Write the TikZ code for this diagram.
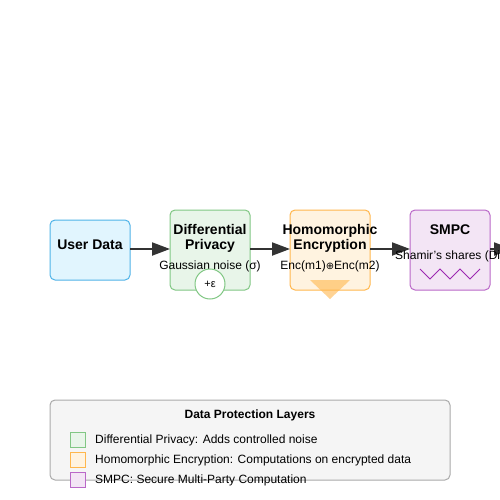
\documentclass[tikz,border=0pt]{standalone}
\usepackage{fontspec}
\setmainfont{Liberation Sans}
\newfontfamily\symfont{DejaVu Sans}
\usetikzlibrary{arrows.meta}
\definecolor{udfill}{HTML}{E1F5FE}
\definecolor{udline}{HTML}{4FB3E8}
\definecolor{dpfill}{HTML}{E8F5E9}
\definecolor{dpline}{HTML}{81C784}
\definecolor{hefill}{HTML}{FFF3E0}
\definecolor{heline}{HTML}{FFB74D}
\definecolor{smfill}{HTML}{F3E5F5}
\definecolor{smline}{HTML}{BA68C8}
\definecolor{zig}{HTML}{9C27B0}
\definecolor{arr}{HTML}{333333}
\definecolor{lgfill}{HTML}{F5F5F5}
\definecolor{lgline}{HTML}{AAAAAA}
\tikzset{
  stagebox/.style={rounded corners=5pt, line width=1pt},
  flow/.style={draw=arr, line width=2pt, -{Triangle[length=18pt,width=13pt]}},
  ttl/.style={font=\bfseries\fontsize{14}{16}\selectfont, align=center, inner sep=0pt},
  lbl/.style={font=\fontsize{12}{14}\selectfont, inner sep=0pt},
  key/.style={line width=1pt, minimum size=15pt, inner sep=0pt},
}
\begin{document}
\begin{tikzpicture}[x=1pt,y=-1pt]
\useasboundingbox (0,0) rectangle (500,500);
\clip (0,0) rectangle (500,500);
\fill[white] (0,0) rectangle (500,500);
% boxes
\draw[stagebox, fill=udfill, draw=udline] (50,220) rectangle (130,280);
\node[ttl] (ud) at (90,245) {User Data};
\coordinate (udR) at (130,249);
\draw[stagebox, fill=dpfill, draw=dpline] (170,210) rectangle (250,290);
\coordinate (dpL) at (170,249);
\coordinate (dpR) at (250,249);
\node[ttl] (dp) at (210,238) {Differential\\[-1pt]Privacy};
\node[lbl] (dpn) at (210,266) {Gaussian noise (σ)};
\node[circle, draw=dpline, fill=white, line width=1pt, minimum size=30pt, inner sep=0pt, font=\fontsize{11}{13}\selectfont] (eps) at (210,284) {+ε};
\draw[stagebox, fill=hefill, draw=heline] (290,210) rectangle (370,290);
\coordinate (heL) at (290,249);
\coordinate (heR) at (370,249);
\node[ttl] (he) at (330,238) {Homomorphic\\[-1pt]Encryption};
\fill[heline, opacity=0.6] (310,280) -- (350,280) -- (330,299) -- cycle;
\node[lbl] (hen) at (330,266) {Enc(m1){\symfont\fontsize{10}{12}\selectfont ⊕}Enc(m2)};
\draw[stagebox, fill=smfill, draw=smline] (410,210) rectangle (490,290);
\coordinate (smL) at (410,249);
\coordinate (smR) at (490,249);
\coordinate (out) at (512,249);
\node[ttl] (sm) at (450,230) {SMPC};
\draw[zig, line width=1pt] (420,269) -- (430,279) -- (440,269) -- (450,279) -- (460,269) -- (470,279) -- (480,269);
% arrows
\draw[flow] (udR) -- (dpL);
\draw[flow] (dpR) -- (heL);
\draw[flow] (heR) -- (smL);
\draw[flow] (smR) -- (out);
\node[lbl, anchor=west] (smn) at (395,256) {Shamir{\char"27}s shares (Distributed)};
% legend
\draw[rounded corners=5pt, fill=lgfill, draw=lgline, line width=1pt] (50,400) rectangle (450,480);
\node[font=\bfseries\fontsize{12}{14}\selectfont, inner sep=0pt] (lt) at (250,415) {Data Protection Layers};
\node[key, draw=dpline, fill=dpfill] (k1) at (77.5,439.5) {};
\node[key, draw=heline, fill=hefill] (k2) at (77.5,459.5) {};
\node[key, draw=smline, fill=smfill] (k3) at (77.5,479.5) {};
\node[lbl, anchor=west] (t1) at (95,440) {Differential Privacy: Adds controlled noise};
\node[lbl, anchor=west] (t2) at (95,460) {Homomorphic Encryption: Computations on encrypted data};
\node[lbl, anchor=west] (t3) at (95,480) {SMPC: Secure Multi-Party Computation};
\end{tikzpicture}
\end{document}
